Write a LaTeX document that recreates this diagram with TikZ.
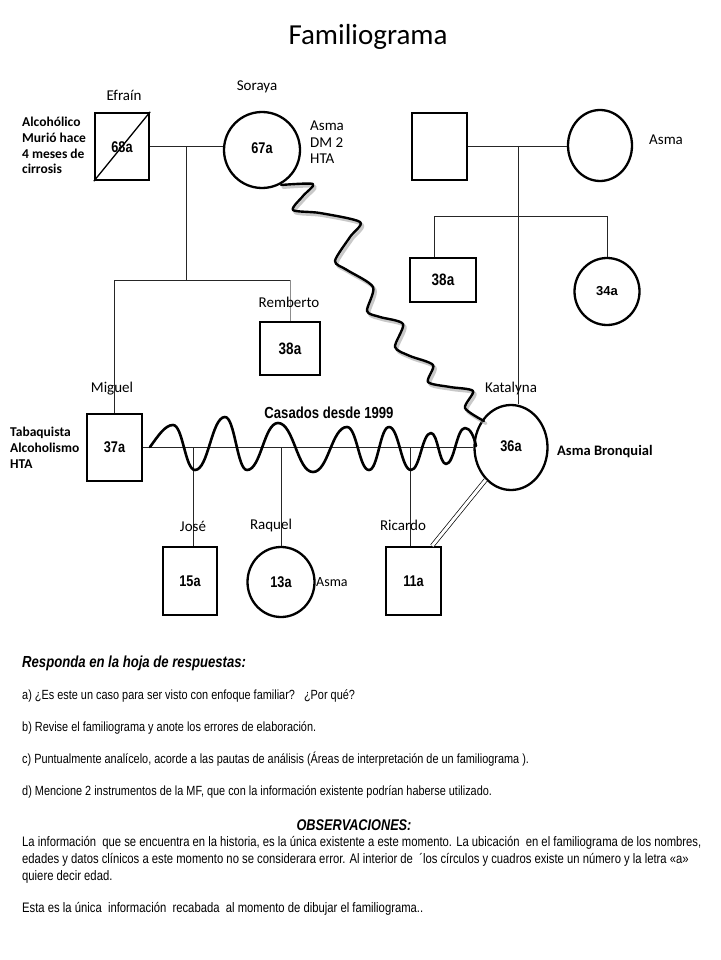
\documentclass[tikz,border=0pt]{standalone}
\usepackage{fontspec}
\setmainfont{Carlito}
\newfontfamily\narrow[FakeStretch=0.82]{Liberation Sans}
\newfontfamily\arialf{Liberation Sans}
\usetikzlibrary{shapes.geometric}
\tikzset{
  conn/.style={draw=black!85, line width=0.8pt},
  boxm/.style={draw, line width=2.3pt, rectangle, inner sep=0pt},
  fem/.style={draw, line width=2.3pt, ellipse, inner sep=0pt},
  age/.style={font=\narrow\bfseries\fontsize{15.5}{18}\selectfont},
  nm/.style={inner sep=0pt, font=\fontsize{15}{18}\selectfont},
  bnote/.style={inner sep=0pt, align=left, font=\bfseries\fontsize{13.5}{15.7}\selectfont},
  qtext/.style={inner sep=0pt, anchor=base west, font=\narrow\fontsize{13.3}{15}\selectfont},
  ptext/.style={inner sep=0pt, anchor=base west, font=\narrow\fontsize{13.75}{15}\selectfont},
}
\begin{document}
\begin{tikzpicture}[x=1pt,y=-1pt]
\useasboundingbox[fill=white] (0,0) rectangle (720,960);
% title
\node[inner sep=0pt, font=\fontsize{29}{34}\selectfont] (title) at (368,37) {Familiograma};

% persons
\node[boxm, minimum width=54, minimum height=67] (ef) at (122,146.5) {};
\node[age] (efa) at (122,147) {68a};
\node[fem, minimum width=76, minimum height=76] (sor) at (262,150) {};
\node[age] (sora) at (262,148) {67a};
\node[boxm, minimum width=55, minimum height=67] (rm) at (439.5,146.5) {};
\node[fem, minimum width=64, minimum height=71] (rf) at (600,145.5) {};
\node[boxm, minimum width=66, minimum height=44, age, font=\narrow\bfseries\fontsize{16.5}{18}\selectfont] (r38) at (443,280) {38a};
\node[fem, minimum width=65, minimum height=67, font=\arialf\bfseries\fontsize{13}{15}\selectfont] (r34) at (607,291.5) {34a};
\node[boxm, minimum width=60, minimum height=53, age, font=\narrow\bfseries\fontsize{16.5}{18}\selectfont] (rem) at (290,348.5) {38a};
\node[boxm, minimum width=55, minimum height=67, age] (mig) at (114.5,447.5) {37a};
\node[fem, minimum width=73, minimum height=85] (kat) at (511,447.5) {};
\node[age] (kata) at (511,446) {36a};
\node[boxm, minimum width=54, minimum height=68, age] (jose) at (190,581) {15a};
\node[fem, minimum width=67, minimum height=70, age] (raq) at (281,582) {13a};
\node[boxm, minimum width=55, minimum height=68, age] (ric) at (413.5,581) {11a};

% deceased cross
\draw[line width=1.3pt] (ef.south west) -- (ef.north east);

% connectors top-left family
\coordinate (c1) at (186,147);
\coordinate (s1) at (186,280);
\draw[conn] (ef.east) -- (ef.east -| sor.west);
\draw[conn] (c1) -- (s1);
\draw[conn] (mig.north) -- (mig.north |- s1) -- (rem.north |- s1);
\draw[conn, draw=black!45] (rem.north |- s1) -- (rem.north);

% right family
\coordinate (c2) at (518,146);
\coordinate (s2) at (518,216);
\draw[conn] (rm.east) -- (rm.east -| rf.west);
\draw[conn] (c2) -- (c2 |- kat.north);
\draw[conn] ([xshift=-9pt]r38.north) -- ([xshift=-9pt]r38.north |- s2) -- (r34.north |- s2) -- (r34.north);

% marriage Miguel - Katalyna
\draw[conn] (mig.east) -- (mig.east -| kat.west);
\draw[conn] ([xshift=3pt]jose.north) -- ([xshift=3pt]jose.north |- mig.east);
\draw[conn] (raq.north) -- (raq.north |- mig.east);
\draw[conn] ([xshift=-3pt]ric.north) -- ([xshift=-3pt]ric.north |- mig.east);

% conflict wave
\draw[line width=2.6pt, line join=round, line cap=round]
 (150,447) .. controls (158,436) and (165,425) .. (173,425)
 .. controls (182.9,425) and (185.1,470) .. (195,470)
 .. controls (208.5,470) and (211.5,417) .. (225,417)
 .. controls (234.9,417) and (237.1,470) .. (247,470)
 .. controls (260.95,470) and (264.05,423) .. (278,423)
 .. controls (293.75,423) and (297.25,472) .. (313,472)
 .. controls (328.3,472) and (331.7,427) .. (347,427)
 .. controls (356.9,427) and (359.1,470) .. (369,470)
 .. controls (378,470) and (380,427) .. (389,427)
 .. controls (398.9,427) and (401.1,470) .. (411,470)
 .. controls (420,470) and (422,433) .. (431,433)
 .. controls (437.75,433) and (439.25,464) .. (446,464)
 .. controls (454.55,464) and (456.45,428) .. (465,428)
 .. controls (470,428) and (474,436) .. (476,446);

% hostile zig-zag line with shadow
\begin{scope}[shift={(2,2.5)}]
\draw[black!35, line width=3pt, line cap=round, line join=round, opacity=0.6] plot[smooth, tension=0.45] coordinates {
 (281,185) (313,184) (303,196) (293,210) (320,213) (360,222) (350,237) (335,261) (347,270) (373,287)
 (367,311) (380,317) (403,324) (395,347) (410,356) (433,365) (428,382) (450,387) (473,391) (465,408) (484,421)};
\end{scope}
\draw[line width=2.4pt, line cap=round, line join=round] plot[smooth, tension=0.45] coordinates {
 (281,185) (313,184) (303,196) (293,210) (320,213) (360,222) (350,237) (335,261) (347,270) (373,287)
 (367,311) (380,317) (403,324) (395,347) (410,356) (433,365) (428,382) (450,387) (473,391) (465,408) (484,421)};

% distant/double line Katalyna - Ricardo
\draw[double, double distance=3pt, line width=0.7pt] (kat.232) -- ([xshift=-10pt]ric.north east);

% names
\node[nm] (nef) at (124,95) {Efraín};
\node[nm] (nsor) at (257,87) {Soraya};
\node[nm] (nrem) at (289,302) {Remberto};
\node[nm] (nmig) at (112,389) {Miguel};
\node[nm] (nkat) at (511,388) {Katalyna};
\node[nm] (njose) at (193,526) {José};
\node[nm] (nraq) at (271,525) {Raquel};
\node[nm] (nric) at (403,525) {Ricardo};

% notes
\node[bnote, anchor=north west] (efnote) at (22,117) {Alcohólico\\Murió hace\\4 meses de\\cirrosis};
\node[inner sep=0pt, align=left, anchor=north west, font=\fontsize{15}{16.5}\selectfont] (sornote) at (310,121) {Asma\\DM 2\\HTA};
\node[nm, anchor=west] (rfnote) at (649,140) {Asma};
\node[bnote, anchor=north west] (mignote) at (10,427) {Tabaquista\\Alcoholismo\\HTA};
\node[inner sep=0pt, font=\narrow\bfseries\fontsize{16}{18}\selectfont] (cas) at (329,413) {Casados desde 1999};
\node[inner sep=0pt, anchor=west, font=\bfseries\fontsize{14.5}{17}\selectfont] (katnote) at (557,452) {Asma Bronquial};
\node[inner sep=0pt, anchor=west, font=\fontsize{14}{17}\selectfont] (raqnote) at (316,582) {Asma};

% questions
\node[inner sep=0pt, anchor=base west, font=\narrow\bfseries\itshape\fontsize{16}{18}\selectfont] (resp) at (22,667) {Responda en la hoja de respuestas:};
\node[qtext] (qa) at (22,699) {a) ¿Es este un caso para ser visto con enfoque familiar?\ \ \ ¿Por qué?};
\node[qtext] (qb) at (22,731) {b) Revise el familiograma y anote los errores de elaboración.};
\node[qtext] (qc) at (22,763) {c) Puntualmente analícelo, acorde a las pautas de análisis (Áreas de interpretación de un familiograma ).};
\node[qtext] (qd) at (22,795) {d) Mencione 2 instrumentos de la MF, que con la información existente podrían haberse utilizado.};

\node[inner sep=0pt, anchor=base, font=\narrow\bfseries\itshape\fontsize{15.5}{18}\selectfont] (obs) at (354,830) {OBSERVACIONES:};
\node[ptext] (o1) at (22,846) {La información\ \ que se encuentra en la historia, es la única existente a este momento. La ubicación\ \ en el familiograma de los nombres,};
\node[ptext] (o2) at (22,863) {edades y datos clínicos a este momento no se considerara error. Al interior de\ \ ´los círculos y cuadros existe un número y la letra «a»};
\node[ptext] (o3) at (22,880) {quiere decir edad.};
\node[ptext] (o4) at (22,912) {Esta es la única\ \ información\ \ recabada\ \ al momento de dibujar el familiograma..};
\end{tikzpicture}
\end{document}
